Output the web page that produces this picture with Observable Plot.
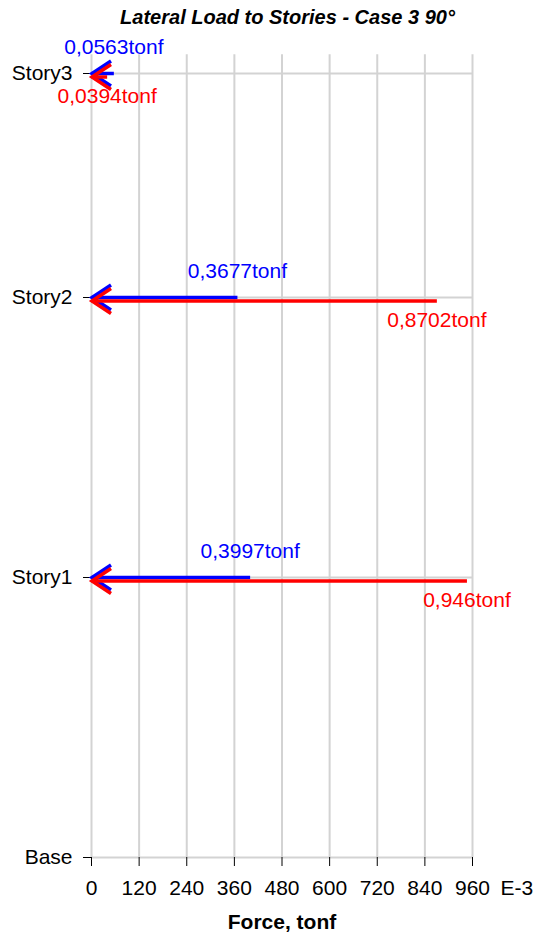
<!DOCTYPE html>
<html><head><meta charset="utf-8">
<script src="https://cdn.jsdelivr.net/npm/d3@7"></script>
<script src="https://cdn.jsdelivr.net/npm/@observablehq/plot@0.6"></script>
<style>
body{margin:0;background:#fff;}
#wrap{position:relative;width:544px;height:943px;font-family:"Liberation Sans",Arial,sans-serif;}
#title{position:absolute;left:0;top:5px;width:575px;text-align:center;font-weight:bold;font-style:italic;font-size:20px;line-height:24px;color:#000;}
#chart{position:absolute;left:0;top:0;}
</style></head><body>
<div id="wrap"><div id="chart"></div><div id="title">Lateral Load to Stories - Case 3 90°</div></div>
<script>
const stories = ["Base", "Story1", "Story2", "Story3"];
const elevations = [0, 3, 6, 8.4];
const loadedStories = ["Story1", "Story2", "Story3"];
const blueForces = [0.3997, 0.3677, 0.0563];   // tonf
const redForces = [0.946, 0.8702, 0.0394];     // tonf
const xTicks = [0, 120, 240, 360, 480, 600, 720, 840, 960];
const xUnit = "E-3";
const xLabel = "Force, tonf";

const BLUE = "#0000ff", RED = "#ff0000", GRID = "#d3d3d3";
const gridTop = 8.6;
const redShift = 3.5;

const rows = loadedStories.map((s, i) => ({
  story: s,
  elev: elevations[stories.indexOf(s)],
  blue: blueForces[i] * 1000,
  red: redForces[i] * 1000,
  blueText: String(blueForces[i]).replace(".", ",") + "tonf",
  redText: String(redForces[i]).replace(".", ",") + "tonf"
}));

const chevron = {draw(ctx) { ctx.moveTo(19.5, -12.5); ctx.lineTo(0.5, 0); ctx.lineTo(19.5, 12.5); }};

const chart = Plot.plot({
  width: 544,
  height: 943,
  marginLeft: 91,
  marginRight: 72,
  marginTop: 73,
  marginBottom: 86,
  style: {fontFamily: "'Liberation Sans', Arial, sans-serif", fontSize: "21px", background: "#fff", color: "#000"},
  x: {domain: [xTicks[0], xTicks[xTicks.length - 1]]},
  y: {domain: [elevations[0], elevations[elevations.length - 1]]},
  marks: [
    Plot.ruleX(xTicks, {x: d => d, y1: () => 0, y2: () => gridTop, stroke: GRID, strokeWidth: 2}),
    Plot.ruleY(elevations, {y: d => d, x1: () => xTicks[0], x2: () => xTicks[xTicks.length - 1], stroke: GRID, strokeWidth: 2}),
    Plot.axisX({ticks: xTicks, tickSize: 9, tickPadding: 14, fontSize: 21, label: null, tickFormat: d => String(d)}),
    Plot.axisY({ticks: elevations, tickSize: 8, tickPadding: 11, fontSize: 21, label: null, tickFormat: d => stories[elevations.indexOf(d)]}),
    Plot.link(rows, {x1: "blue", x2: () => 0, y1: "elev", y2: "elev", stroke: BLUE, strokeWidth: 3.5}),
    Plot.dot(rows, {x: () => 0, y: "elev", r: 5, symbol: chevron, fill: "none", stroke: BLUE, strokeWidth: 3.5, strokeLinejoin: "miter"}),
    Plot.link(rows, {x1: "red", x2: () => 0, y1: "elev", y2: "elev", stroke: RED, strokeWidth: 3.5, dy: redShift}),
    Plot.dot(rows, {x: () => 0, y: "elev", r: 5, symbol: chevron, fill: "none", stroke: RED, strokeWidth: 3.5, strokeLinejoin: "miter", dy: redShift}),
    Plot.text(rows, {x: "blue", y: "elev", text: "blueText", fill: BLUE, fontSize: 21, dy: -26}),
    Plot.text(rows, {x: "red", y: "elev", text: "redText", fill: RED, fontSize: 21, dy: 23}),
    Plot.text([xUnit], {x: () => xTicks[xTicks.length - 1], frameAnchor: "bottom", text: d => d, dy: 37, dx: 28, textAnchor: "start", fontSize: 21}),
    Plot.text([xLabel], {frameAnchor: "bottom", text: d => d, dy: 71, fontSize: 21, fontWeight: "bold"})
  ]
});
document.getElementById("chart").appendChild(chart);
</script>
</body></html>
